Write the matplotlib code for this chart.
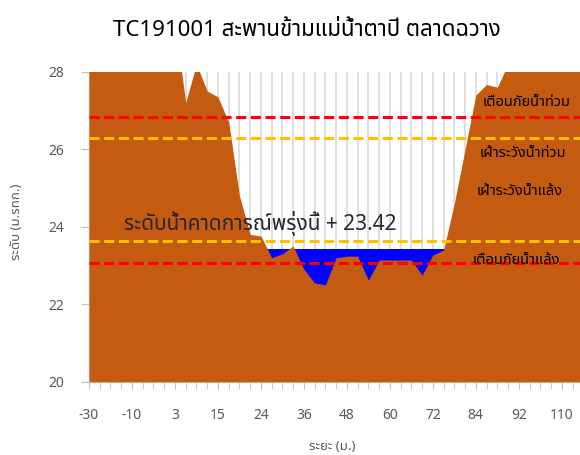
import numpy as np
import matplotlib
matplotlib.use('Agg')
import matplotlib.pyplot as plt
from matplotlib import font_manager
from matplotlib.ft2font import FT2Font

# survey distances (m.) - one per category on the axis
distance = [-30, -25, -20, -15, -10, -7, -4, 0, 3, 5, 8, 12, 15, 17, 20, 22,
            24, 27, 30, 33, 36, 39, 42, 45, 48, 51, 54, 57, 60, 63, 66, 69,
            72, 75, 78, 81, 84, 86, 88, 90, 92, 96, 101, 105, 110, 115, 120, 125]

# ground level (m. MSL)
ground = [28.8, 28.8, 28.7, 28.7, 28.6, 28.6, 28.5, 28.6, 29.3, 27.2, 28.2, 27.5,
          27.35, 26.7, 24.8, 23.8, 23.76, 23.2, 23.3, 23.5, 22.9, 22.55, 22.5, 23.2,
          23.24, 23.24, 22.62, 23.14, 23.14, 23.14, 23.14, 22.75, 23.27, 23.4, 24.6, 26.0,
          27.4, 27.67, 27.6, 28.2, 28.6, 28.7, 28.8, 28.8, 28.9, 28.9, 29.0, 29.0]

forecast_level = 23.42
flood_warn = 26.82
flood_watch = 26.30
drought_watch = 23.62
drought_warn = 23.06

title = 'TC191001 สะพานข้ามแม่น้ำตาปี ตลาดฉวาง'


# pick a font that can draw Thai
def thai_font():
    prefer = ['Tahoma', 'Leelawadee UI', 'Leelawadee', 'Noto Sans Thai', 'Noto Sans Thai UI',
              'Noto Sans Thai Looped', 'Loma', 'Garuda', 'Waree', 'Sarabun', 'Kinnari', 'Norasi']
    names = {f.name for f in font_manager.fontManager.ttflist}
    for p in prefer:
        if p in names:
            return p
    for f in font_manager.fontManager.ttflist:
        try:
            if 0x0E01 in FT2Font(f.fname).get_charmap():
                return f.name
        except Exception:
            pass
    return 'DejaVu Sans'


thai = thai_font()
plt.rcParams['font.family'] = [thai, 'DejaVu Sans']

fig = plt.figure(figsize=(5.8, 4.55), dpi=100)
ax = fig.add_axes([89 / 580, 73.3 / 455, 505 / 580, 310 / 455])

x = np.arange(len(distance))
g = np.array(ground)

# water in the channel, drawn behind the ground
below = np.where(g < forecast_level)[0]
ax.fill_between([below.min() - 1, below.max() + 1], 20, forecast_level,
                color='#0000ff', lw=0, zorder=2)
ax.fill_between(x, 20, g, color='#c55a11', lw=0, zorder=3)

dash = (0, (3.3, 1.5))
ax.axhline(flood_warn, color='#ff0000', lw=2.2, ls=dash, zorder=4)
ax.axhline(flood_watch, color='#ffc000', lw=2.2, ls=dash, zorder=4)
ax.axhline(drought_watch, color='#ffc000', lw=2.2, ls=dash, zorder=4)
ax.axhline(drought_warn, color='#ff0000', lw=2.2, ls=dash, zorder=4)

ax.set_xlim(0, len(distance) - 1)
ax.set_ylim(20, 28)
ax.set_yticks([20, 22, 24, 26, 28])
ax.set_xticks(x, minor=True)
ax.set_xticks(x[::4])
ax.set_xticklabels([str(d) for d in distance[::4]])
ax.grid(axis='x', which='both', color='#d9d9d9', lw=1.2, zorder=1)
ax.set_axisbelow(True)

for s in ['top', 'right']:
    ax.spines[s].set_visible(False)
for s in ['left', 'bottom']:
    ax.spines[s].set_color('#bfbfbf')
ax.tick_params(axis='both', which='both', color='#bfbfbf', labelcolor='#595959', labelsize=10)
ax.tick_params(axis='x', which='both', length=5, pad=14)
ax.tick_params(axis='y', length=6, pad=12)

# level labels
lbl = dict(ha='center', va='center', fontsize=10.5, fontweight='bold', zorder=5)
ax.text(40.7, 27.2, 'เตือนภัยน้ำท่วม', **lbl)
ax.text(40.4, 25.88, 'เฝ้าระวังน้ำท่วม', **lbl)
ax.text(40.1, 24.9, 'เฝ้าระวังน้ำแล้ง', **lbl)
ax.text(39.8, 23.14, 'เตือนภัยน้ำแล้ง', **lbl)
ax.text(3.3, 24.09, 'ระดับน้ำคาดการณ์พรุ่งนี้ + %.2f' % forecast_level, ha='left', va='center',
        fontsize=15, color='#262626', zorder=5)

fig.text(307 / 580, 1 - 30 / 455, title, ha='center', va='center', fontsize=16, color='#000000')
fig.text(17 / 580, 1 - 222 / 455, 'ระดับ (ม.รทก.)', rotation=90, ha='center', va='center',
         fontsize=9.5, fontweight='bold', color='#595959')
fig.text(332 / 580, 1 - 447 / 455, 'ระยะ (ม.)', ha='center', va='center',
         fontsize=9.5, fontweight='bold', color='#595959')

fig.savefig('out.png', dpi=100)
